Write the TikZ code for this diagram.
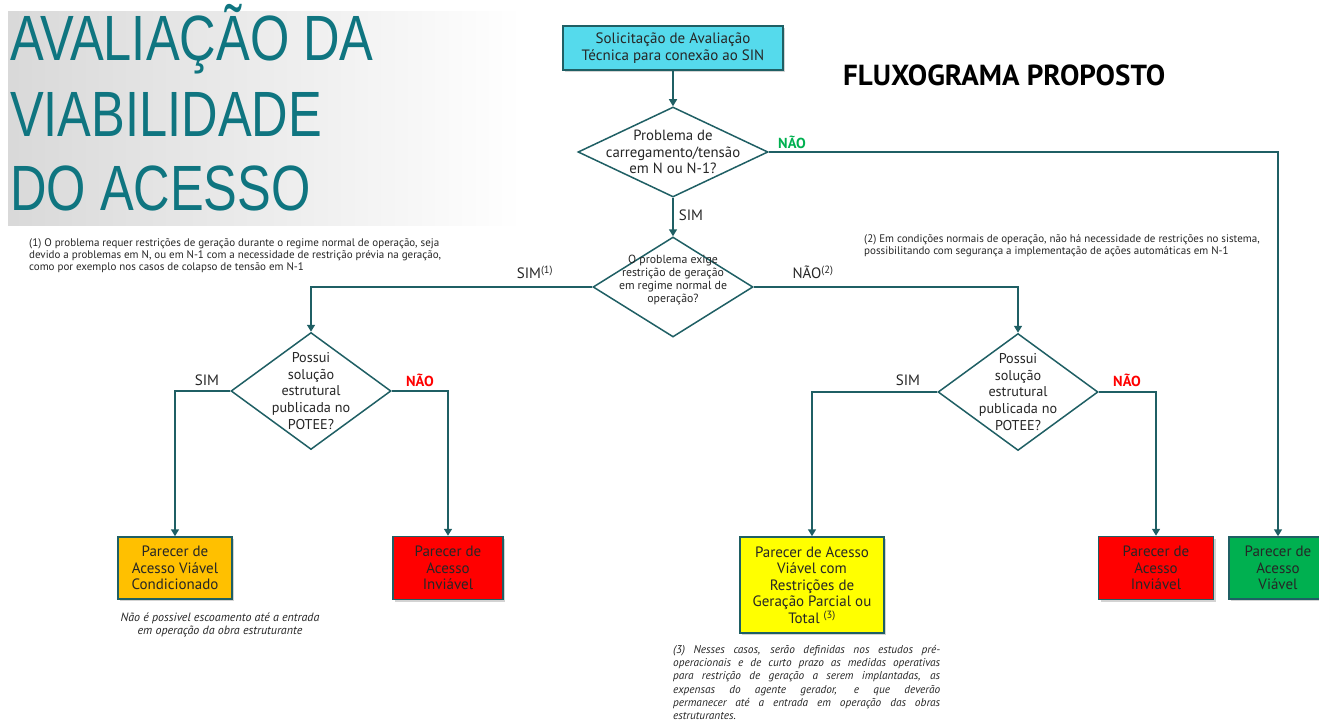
\documentclass[tikz,border=0pt]{standalone}
\usepackage{fontspec}
\setmainfont{PT Sans}
\newfontfamily\titlefont[FakeStretch=0.79]{Liberation Sans}
\usepackage{xcolor}
\usepackage{tikz}
\usetikzlibrary{positioning,calc,shapes.geometric,arrows.meta,shadows}
\definecolor{linha}{RGB}{31,95,100}
\definecolor{tituloazul}{RGB}{15,117,128}
\definecolor{ciano}{RGB}{85,218,236}
\definecolor{laranja}{RGB}{255,192,0}
\definecolor{vermelho}{RGB}{255,0,0}
\definecolor{amarelo}{RGB}{255,255,0}
\definecolor{verde}{RGB}{0,176,80}
\definecolor{texto}{RGB}{38,38,38}
\tikzstyle{caixa}= [rectangle, draw=linha, line width=1.5pt, align=center, inner sep=0pt, text=texto, font=\fontsize{15}{16.5}\selectfont, drop shadow={shadow xshift=2pt, shadow yshift=-2pt, opacity=0.35}]
\tikzstyle{decisao}= [diamond, draw=linha, line width=1.5pt, fill=white, inner sep=0pt]
\tikzstyle{seta}= [draw=linha, line width=1.5pt, -{Triangle[width=8pt,length=7pt]}]
\tikzstyle{rotulo}= [font=\fontsize{15}{16}\selectfont, text=texto, inner sep=0pt]
\tikzstyle{nota}= [font=\fontsize{11}{12}\selectfont, text=texto, inner sep=0pt, align=left]
\tikzstyle{titulo}= [font=\titlefont\fontsize{64}{64}\selectfont, text=tituloazul, inner sep=0pt, anchor=base west]

\begin{document}
\begin{tikzpicture}[x=1pt, y=-1pt]
				\useasboundingbox (0,0) rectangle (1319,722);
				\shade[left color=gray!30, right color=white] (8,12) rectangle (522,225);
				\node[titulo] (t1) at (10,61) {AVALIAÇÃO DA};
				\node[titulo] (t2) at (10,137) {VIABILIDADE};
				\node[titulo] (t3) at (10,211) {DO ACESSO};
				\node[font=\bfseries\fontsize{29}{29}\selectfont, anchor=west, inner sep=0pt] (fluxo) at (843,75) {FLUXOGRAMA PROPOSTO};
				
				\node[caixa, fill=ciano, minimum width=220pt, minimum height=44pt] (inicio) at (673,48) {Solicitação de Avaliação\\Técnica para conexão ao SIN};
				\node[decisao, minimum width=190pt, minimum height=90pt, label={[rotulo, align=center, font=\fontsize{14.8}{16.5}\selectfont]center:{Problema de\\carregamento/tensão\\em N ou N-1?}}] (d1) at (673,152) {};
				\node[decisao, minimum width=160pt, minimum height=100pt, label={[rotulo, align=center, yshift=6.5pt, font=\fontsize{11.8}{13}\selectfont]center:{O problema exige\\restrição de geração\\em regime normal de\\operação?}}] (d2) at (673,287) {};
				\node[decisao, minimum width=160pt, minimum height=117pt, label={[rotulo, align=center, font=\fontsize{14.2}{16.7}\selectfont]center:{Possui\\solução\\estrutural\\publicada no\\POTEE?}}] (d3) at (311,391) {};
				\node[decisao, minimum width=160pt, minimum height=117pt, label={[rotulo, align=center, font=\fontsize{14.2}{16.7}\selectfont]center:{Possui\\solução\\estrutural\\publicada no\\POTEE?}}] (d4) at (1018,392) {};
				
				\node[caixa, fill=laranja, minimum width=114pt, minimum height=62pt] (cond) at (175,568) {Parecer de\\Acesso Viável\\Condicionado};
				\node[caixa, fill=vermelho, minimum width=110pt, minimum height=63pt] (inv1) at (448,568) {Parecer de\\Acesso\\Inviável};
				\node[caixa, fill=amarelo, minimum width=144pt, minimum height=96pt] (restr) at (812,585) {Parecer de Acesso\\Viável com\\Restrições de\\Geração Parcial ou\\Total \textsuperscript{(3)}};
				\node[caixa, fill=vermelho, minimum width=115pt, minimum height=63pt] (inv2) at (1156,568) {Parecer de\\Acesso\\Inviável};
				\node[caixa, fill=verde, minimum width=98pt, minimum height=62pt] (viavel) at (1278,568) {Parecer de\\Acesso\\Viável};
				
				\draw[seta] (inicio) -- (d1);
				\draw[seta] (d1.east) -| (viavel.north);
				\draw[seta] (d1) -- (d2);
				\draw[seta] (d2.west) -| (d3.north);
				\draw[seta] (d2.east) -| (d4.north);
				\draw[seta] (d3.west) -| (cond.north);
				\draw[seta] (d3.east) -| (inv1.north);
				\draw[seta] (d4.west) -| (restr.north);
				\draw[seta] (d4.east) -| (inv2.north);
				
				\node[rotulo, font=\bfseries\fontsize{14.5}{16}\selectfont, text=verde] (nao1) at (792,142) {NÃO};
				\node[rotulo] (sim1) at (691,215) {SIM};
				\node[rotulo] (sim2) at (535,272) {SIM\textsuperscript{(1)}};
				\node[rotulo] (nao2) at (813,272) {NÃO\textsuperscript{(2)}};
				\node[rotulo] (sim3) at (207,380) {SIM};
				\node[rotulo, font=\bfseries\fontsize{14.5}{16}\selectfont, text=vermelho] (nao3) at (420,380) {NÃO};
				\node[rotulo] (sim4) at (908,380) {SIM};
				\node[rotulo, font=\bfseries\fontsize{14.5}{16}\selectfont, text=vermelho] (nao4) at (1127,380) {NÃO};
				
				\node[nota, anchor=north west] (nota1) at (29,238) {(1) O problema requer restrições de geração durante o regime normal de operação, seja\\devido a problemas em N, ou em N-1 com a necessidade de restrição prévia na geração,\\como por exemplo nos casos de colapso de tensão em N-1};
				\node[nota, anchor=north west] (nota2) at (864,234) {(2) Em condições normais de operação, não há necessidade de restrições no sistema,\\possibilitando com segurança a implementação de ações automáticas em N-1};
				\node[nota, font=\itshape\fontsize{12}{13}\selectfont, align=center] (nota4) at (220,625) {Não é possivel escoamento até a entrada\\em operação da obra estruturante};
				\node[nota, font=\itshape\fontsize{11.3}{13.3}\selectfont, anchor=north west, text width=267pt, align=justify] (nota3) at (673,645) {(3) Nesses casos, serão definidas nos estudos pré-\linebreak operacionais e de curto prazo as medidas operativas\linebreak para restrição de geração a serem implantadas, as\linebreak expensas do agente gerador, e que deverão\linebreak permanecer até a entrada em operação das obras\linebreak estruturantes.};
			\end{tikzpicture}
\end{document}
